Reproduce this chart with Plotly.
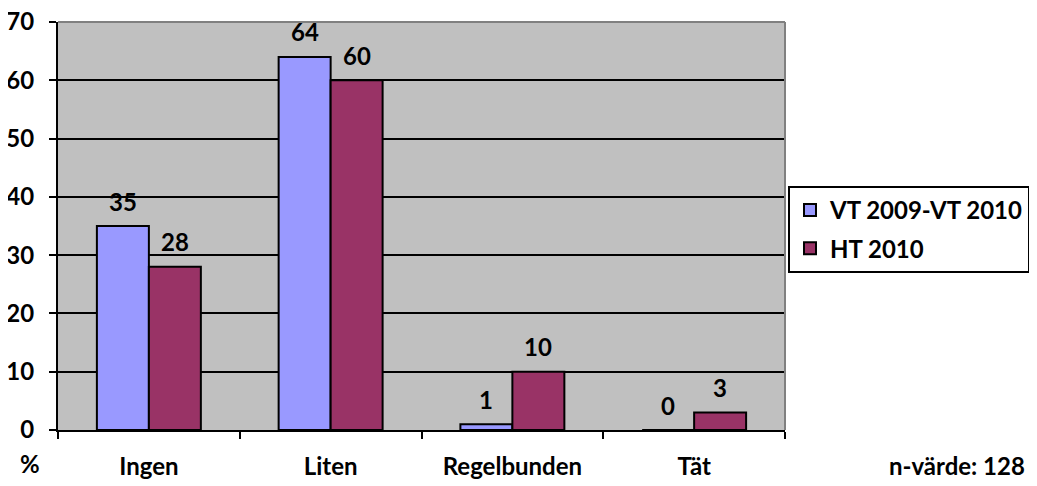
import plotly.graph_objects as go

categories = ["Ingen", "Liten", "Regelbunden", "Tät"]
series_names = ["VT 2009-VT 2010", "HT 2010"]
vt_values = [35, 64, 1, 0]
ht_values = [28, 60, 10, 3]
y_ticks = [0, 10, 20, 30, 40, 50, 60, 70]
colors = ["#9999FF", "#993366"]

FONT = "Lato"
FS = 24

OFF = 8  # page body margin
W, H = 1037 - OFF, 486 - OFF
# plot area in reference pixels
PL, PR, PT, PB = 58 - OFF, 785 - OFF, 22 - OFF, 430 - OFF


def px_to_paper(px, py):
    px, py = px - OFF, py - OFF
    return (px - PL) / (PR - PL), (PB - py) / (PB - PT)


fig = go.Figure()
for i, (name, vals, col) in enumerate(zip(series_names, [vt_values, ht_values], colors)):
    fig.add_trace(go.Bar(
        x=categories, y=vals, name=name, legendgroup=f"g{i}",
        marker=dict(color=col, line=dict(color="black", width=2)),
    ))

annotations = []
for vals, shift in [(vt_values, -26), (ht_values, 26)]:
    for c, v in zip(categories, vals):
        annotations.append(dict(
            x=c, y=v, xref="x", yref="y", text=f"<b>{v}</b>", showarrow=False,
            xshift=shift, yshift=25, yanchor="middle",
            font=dict(family=FONT, size=FS, color="black"),
        ))

for text, (px, py) in [("<b>%</b>", (30, 464)), ("<b>n-värde: 128</b>", (957, 466))]:
    x, y = px_to_paper(px, py)
    annotations.append(dict(x=x, y=y, xref="paper", yref="paper", text=text,
                            showarrow=False, xanchor="center", yanchor="middle",
                            font=dict(family=FONT, size=FS, color="black")))

fig.update_layout(
    width=W, height=H,
    margin=dict(l=PL, r=W - PR, t=PT, b=H - PB),
    paper_bgcolor="white", plot_bgcolor="#C0C0C0",
    barmode="group", bargap=0.428, bargroupgap=0,
    font=dict(family=FONT, size=FS, color="black", weight="bold"),
    xaxis=dict(
        showline=True, linecolor="black", linewidth=2, automargin=False,
        ticks="outside", tickson="boundaries", ticklen=7, tickwidth=2, tickcolor="black",
        ticklabelstandoff=14, showgrid=False, ticklabeloverflow="allow",
        tickfont=dict(family=FONT, size=FS, color="black", weight="bold"),
    ),
    yaxis=dict(
        range=[0, 70], tickvals=y_ticks, automargin=False,
        showline=True, linecolor="black", linewidth=2,
        ticks="outside", ticklen=7, tickwidth=2, tickcolor="black",
        ticklabelstandoff=10, ticklabeloverflow="allow",
        showgrid=True, gridcolor="black", gridwidth=2, zeroline=False,
        tickfont=dict(family=FONT, size=FS, color="black", weight="bold"),
    ),
    legend=dict(
        xref="container", yref="container",
        x=(788 - OFF) / W, y=1 - (186 - OFF) / H, xanchor="left", yanchor="top",
        bgcolor="white", bordercolor="black", borderwidth=2,
        font=dict(family=FONT, size=FS, color="black", weight="bold"),
        tracegroupgap=4, traceorder="grouped",
    ),
    annotations=annotations,
    shapes=[
        dict(type="line", xref="paper", yref="paper", x0=0, x1=1, y0=1, y1=1,
             line=dict(color="#808080", width=2), layer="above"),
        dict(type="line", xref="paper", yref="paper", x0=1, x1=1, y0=0, y1=1,
             line=dict(color="#808080", width=2), layer="above"),
    ],
)

fig.write_html("out.html")
